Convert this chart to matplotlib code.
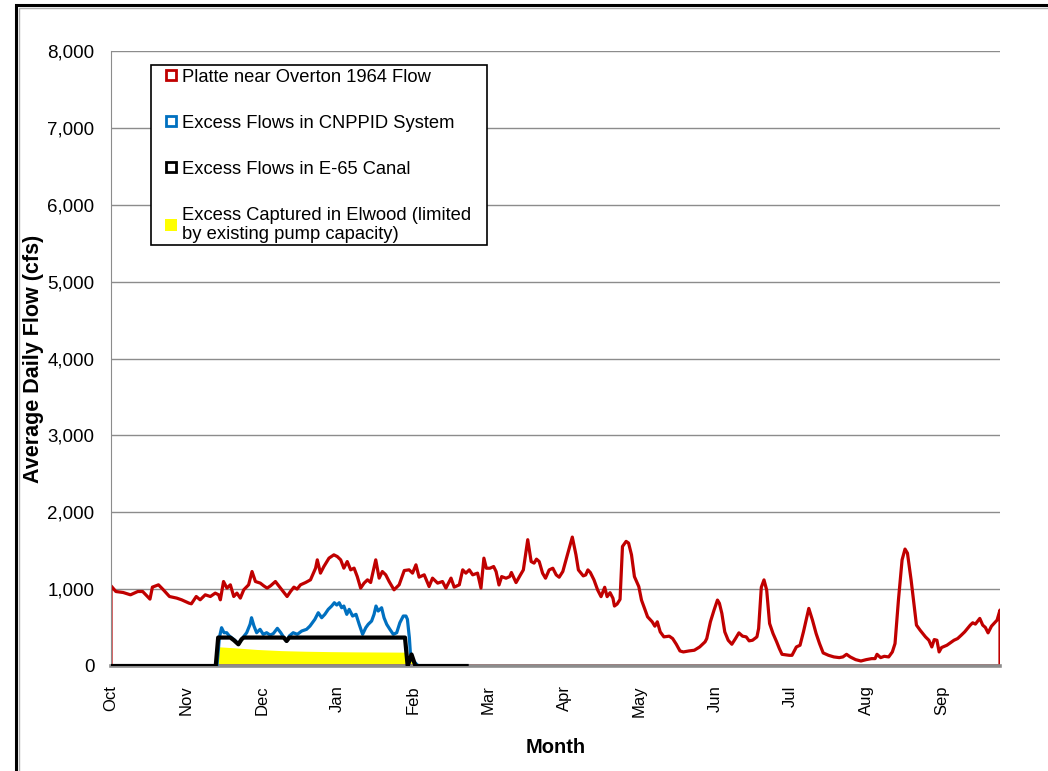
import matplotlib
matplotlib.use('Agg')
import matplotlib.pyplot as plt
from matplotlib.lines import Line2D
from matplotlib.patches import Rectangle
from matplotlib.ticker import FuncFormatter

plt.rcParams['font.family'] = ['Liberation Sans', 'DejaVu Sans']

# water year 1964, day 0 = Oct 1 1963
months = ['Oct', 'Nov', 'Dec', 'Jan', 'Feb', 'Mar', 'Apr', 'May', 'Jun', 'Jul', 'Aug', 'Sep']
month_days = [0, 31, 62, 93, 124, 155, 186, 217, 248, 279, 310, 341]

# Platte near Overton, 1964 flow (cfs)
red_day = [0, 2, 5, 8, 11, 13, 16, 17, 19.5, 21.5, 24, 27, 29, 32, 33, 35, 36.6, 38.7, 40.8, 42.8,
           44.2, 44.9, 46.2, 47.6, 49, 50.4, 51.7, 53.1, 54.5, 56.5, 57.9, 59.3, 61.3, 62.7, 64.1,
           65.5, 67.5, 69.6, 72.3, 73.7, 75.1, 76.4, 77.8, 79.9, 81.9, 84, 84.7, 86, 87.4, 89.5,
           91.5, 92.9, 94.3, 95.6, 97, 98.4, 99.8, 101.1, 102.5, 103.9, 105.3, 106.6, 108.7, 110.1,
           111.4, 112.8, 114.2, 116.2, 118.3, 120.4, 122.4, 123.8, 125.2, 126.5, 128.6, 130.6, 132,
           134.1, 136.1, 137.5, 139.6, 140.9, 143, 144.4, 145.7, 147.1, 148.5, 150.5, 151.9,
           153.1, 154.1, 155.6, 157.1, 158.1, 159.3, 160.4, 162.2, 163.7, 164.4, 166.3, 168.1,
           169.3, 171.1, 172.5, 173.7, 174.7, 175.8, 177.2, 178.4, 179.9, 181.4, 182.8, 184, 185.5,
           187.2, 189.4, 190.9, 191.9, 193.9, 194.9, 195.8, 196.8, 198.3, 199.8, 201.2, 202.7,
           203.7, 204.9, 206.1, 206.7, 207.8, 209, 210, 211.5, 212.5, 213.7, 214.9, 216.7, 217.8,
           219.3, 220.3, 222.2, 223.3, 224.3, 225.5, 227, 229.2, 230.6, 232.1, 233.6, 235, 237.3,
           239.5, 241.7, 243.9, 244.6, 246.1, 247.6, 249, 249.8, 250.8, 252, 253.4, 254.9, 256.4,
           257.8, 259.3, 260.8, 262, 263.4, 265.2, 265.9, 267, 268.1, 269.2, 270.4, 271.8, 273.3,
           274.4, 275.5, 278.5, 279.6, 281.4, 282.9, 284.3, 285.4, 286.5, 288, 289.5, 290.9, 292.4,
           294.6, 296.8, 299, 300.5, 302, 303.5, 305.7, 307.9, 310.1, 312.3, 313.7, 314.5, 316,
           317.5, 319.3, 320.8, 321.9, 323.3, 324.8, 326, 327, 328.5, 330.7, 332.2, 334.4, 335.8,
           337, 338, 339.1, 340, 341, 343.2, 346.1, 347.6, 349.1, 350.5, 352.8, 353.8, 354.9,
           356.7, 357.9, 359, 360.1, 361.5, 363.8, 365]
red_cfs = [1043, 969, 956, 926, 969, 969, 870, 1026, 1056, 991, 904, 883, 861, 818, 809, 904, 861,
           926, 904, 948, 926, 861, 1099, 1013, 1056, 904, 948, 883, 991, 1056, 1229, 1099, 1078,
           1043, 1013, 1043, 1099, 1013, 904, 969, 1026, 1000, 1056, 1086, 1121, 1273, 1381, 1208,
           1294, 1403, 1446, 1424, 1381, 1273, 1359, 1251, 1273, 1164, 1013, 1078, 1121, 1086, 1381,
           1143, 1229, 1186, 1099, 991, 1056, 1242, 1251, 1208, 1316, 1156, 1186, 1034, 1143, 1078,
           1099, 1013, 1143, 1026, 1056, 1251, 1208, 1251, 1186, 1208, 1013,
           1403, 1272, 1272, 1294, 1229, 1054, 1163, 1142, 1163, 1216, 1085, 1185, 1250, 1643, 1359,
           1338, 1390, 1359, 1207, 1142, 1250, 1272, 1185, 1155, 1229, 1425, 1677, 1447, 1250, 1172,
           1185, 1250, 1216, 1120, 989, 902, 1024, 902, 954, 880, 780, 806, 867, 1555, 1621, 1599,
           1447, 1163, 1033, 858, 728, 640, 575, 518, 575, 444, 379, 388, 357, 283, 196, 183, 196,
           205, 248, 314, 357, 575, 728, 858, 815, 684, 444, 335, 283, 357, 431, 388, 379, 327, 335,
           379, 488, 1024, 1120, 989, 553, 423, 314, 227, 152, 139, 139, 248, 270, 444, 597, 749,
           597, 423, 292, 170, 139, 118, 109, 118, 152, 118, 83, 65, 83, 96, 96, 152, 109, 126, 118,
           183, 292, 858, 1381, 1521, 1468, 1120, 532, 466, 379, 335, 248, 344, 335, 183, 240, 270,
           335, 357, 401, 444, 532, 562, 545, 619, 532, 501, 431, 518, 597, 728]

# Excess flows in CNPPID system (cfs)
blue_day = [0, 43.5, 44.5, 45.4, 46.4, 47.5, 48.6, 49.5, 50.9, 52.3, 53.6, 55.7, 57.1, 57.7, 58.7,
            59.8, 61.2, 62.5, 63.9, 65.3, 66.6, 68.3, 69.7, 71, 72.1, 73.2, 74.8, 76.5, 78.3,
            80.3, 81.7, 83.7, 85.1, 86.5, 87.8, 89.2, 90.6, 91.7, 92.7, 93.7, 94.7, 95.6, 96.8,
            97.8, 99.2, 100.6, 101.9, 103.3, 104.6, 105.6, 107, 108, 108.8, 109.7, 111.1, 112.1,
            113.2, 114.5, 115.9, 117.3, 118.6, 120, 121.1, 121.7, 122.5, 123, 124.1, 125.5, 126.2, 146]
blue_cfs = [0, 0, 370, 498, 433, 433, 390, 368, 334, 282, 347, 433, 542, 628, 520, 433, 477, 412,
            433, 403, 420, 490, 433, 368, 325, 390, 433, 412, 455, 477, 520, 607, 693, 628, 672,
            737, 780, 823, 793, 823, 758, 780, 672, 737, 650, 672, 542, 412, 498, 542, 585, 672,
            780, 715, 758, 628, 542, 477, 412, 433, 563, 650, 650, 607, 368, 130, 65, 22, 0, 0]

# Excess flows in E-65 canal (cfs)
black_day = [0, 43, 44, 49, 50.5, 52.3, 53.6, 54.5, 70, 71, 72.1, 73.2, 120.7, 121.8, 123.4, 125, 146]
black_cfs = [0, 0, 370, 370, 334, 282, 347, 370, 370, 368, 325, 370, 370, 0, 150, 0, 0]

# Excess captured in Elwood (cfs)
yellow_day = [43.5, 44.3, 50, 60, 70, 80, 90, 100, 110, 121, 121.6, 122.6, 123.5, 124.6]
yellow_cfs = [0, 250, 238, 215, 200, 192, 187, 184, 182, 180, 0, 0, 130, 0]

W, H = 1048, 771
fig = plt.figure(figsize=(W / 100, H / 100), dpi=100)
ax = fig.add_axes([111 / W, 1 - 666 / H, 889 / W, 615 / H])

ax.fill_between(yellow_day, 0, yellow_cfs, color='#FFFF00', lw=0, zorder=2)
ax.fill_between(red_day + [365], red_cfs + [0], 0, facecolor='none', edgecolor='#C00000',
                lw=2.3, zorder=2.2)
ax.plot(blue_day, blue_cfs, color='#0070C0', lw=2.3, zorder=3)
ax.plot(black_day, black_cfs, color='black', lw=3.0, zorder=4)

ax.set_xlim(0, 365)
ax.set_ylim(0, 8000)
ax.set_yticks(range(0, 8001, 1000))
ax.yaxis.set_major_formatter(FuncFormatter(lambda v, p: '{:,.0f}'.format(v)))
ax.set_xticks(month_days)
ax.set_xticklabels(months, rotation=90, va='top', ha='center')
ax.tick_params(axis='y', length=0, pad=12, labelsize=13.5)
ax.tick_params(axis='x', length=0, pad=14, labelsize=12)
ax.grid(axis='y', color='#8c8c8c', lw=1)
ax.set_axisbelow(True)
for s in ['top', 'right']:
    ax.spines[s].set_visible(False)
ax.spines['left'].set_color('#8c8c8c')
ax.spines['bottom'].set_color('#8c8c8c')
ax.spines['bottom'].set_linewidth(2.6)
ax.spines['bottom'].set_zorder(2.5)

ax.set_ylabel('Average Daily Flow (cfs)', fontsize=15.5, fontweight='bold', labelpad=2)
ax.set_xlabel('Month', fontsize=14.5, fontweight='bold', labelpad=15)

handles = [
    Line2D([], [], ls='none', marker='s', ms=7.5, mfc='white', mec='#C00000', mew=2),
    Line2D([], [], ls='none', marker='s', ms=7.5, mfc='white', mec='#0070C0', mew=2),
    Line2D([], [], ls='none', marker='s', ms=7.5, mfc='white', mec='black', mew=2),
    Line2D([], [], ls='none', marker='s', ms=8.5, mfc='#FFFF00', mec='#FFFF00', mew=0),
]
labels = ['Platte near Overton 1964 Flow',
          'Excess Flows in CNPPID System',
          'Excess Flows in E-65 Canal',
          'Excess Captured in Elwood (limited\nby existing pump capacity)']
leg = ax.legend(handles, labels, loc='upper left', bbox_to_anchor=((152 - 111) / 889, (666 - 66) / 615),
                borderaxespad=0, fontsize=13.2, labelspacing=1.58, handlelength=1.75,
                handletextpad=-0.25, borderpad=0.15, frameon=False)
leg.set_zorder(6)

# legend box, drawn separately so it can be wider than the entries
ax.add_patch(Rectangle(((151 - 111) / 889, (666 - 245) / 615), 336 / 889, 180 / 615,
                       transform=ax.transAxes, facecolor='white', edgecolor='black',
                       lw=1.2, zorder=5.5))

# outer chart border
fig.patches.append(Rectangle((16 / W, -0.05), 1.1, 1 - 5 / H + 0.05,
                             transform=fig.transFigure, fill=False, ec='black', lw=2.2))
fig.patches.append(Rectangle((19 / W, -0.05), 1.1, 1 - 8 / H + 0.05,
                             transform=fig.transFigure, fill=False, ec='#b0b0b0', lw=1))

fig.savefig('out.png', dpi=100)
